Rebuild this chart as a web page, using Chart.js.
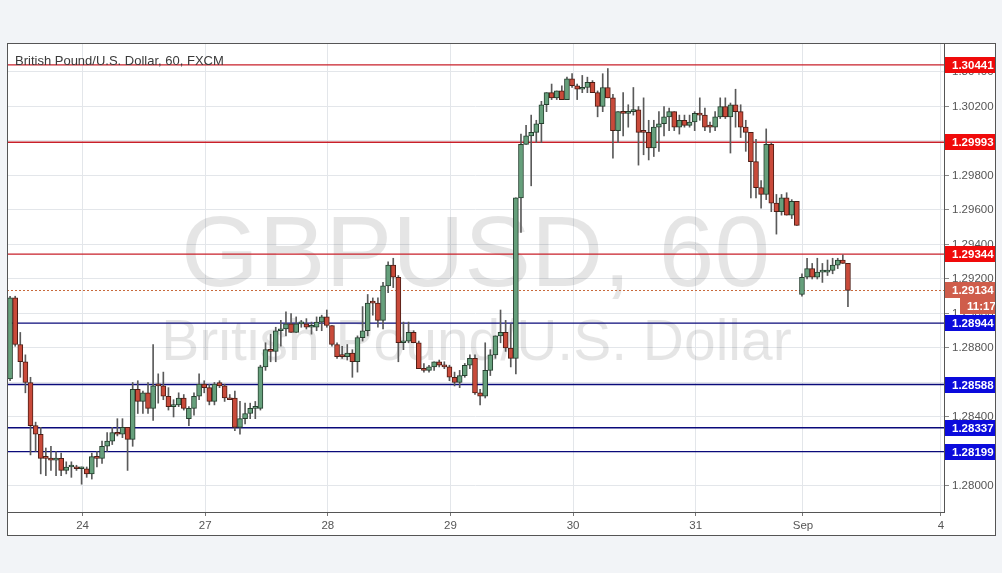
<!DOCTYPE html>
<html>
<head>
<meta charset="utf-8">
<title>GBPUSD, 60</title>
<script src="https://cdn.jsdelivr.net/npm/chart.js@4.4.0/dist/chart.umd.min.js"></script>
<style>
  html, body { margin: 0; padding: 0; background: #f2f4f7; }
  canvas { display: block; }
</style>
</head>
<body>
<canvas id="myChart" width="1002" height="573"></canvas>
<script>
const title = 'British Pound/U.S. Dollar, 60, FXCM';
const symbol = 'GBPUSD, 60';
const symbolName = 'British Pound/U.S. Dollar';

// hourly candles, [open, high, low, close]
const aug23 = [
    [1.2862, 1.2910, 1.2861, 1.2909], [1.2909, 1.2910, 1.2881, 1.2882], [1.2882, 1.2889, 1.2863, 1.2872],
    [1.2872, 1.2876, 1.2854, 1.2860], [1.2860, 1.2863, 1.2818, 1.2835], [1.2835, 1.2837, 1.2820, 1.2830],
    [1.2830, 1.2834, 1.2807, 1.2816], [1.2817, 1.2822, 1.2806, 1.2816], [1.2816, 1.2823, 1.2809, 1.2815],
    [1.2815, 1.2820, 1.2806, 1.2816], [1.2816, 1.2819, 1.2806, 1.2809], [1.2809, 1.2814, 1.2807, 1.2811],
    [1.2811, 1.2814, 1.2805, 1.2811], [1.2811, 1.2812, 1.2809, 1.2810], [1.2810, 1.2811, 1.2801, 1.2810]
];
const aug24 = [
    [1.2810, 1.2811, 1.2805, 1.2807], [1.2807, 1.2819, 1.2804, 1.2817], [1.2817, 1.2820, 1.2811, 1.2816],
    [1.2816, 1.2826, 1.2813, 1.2823], [1.2823, 1.2831, 1.2820, 1.2826], [1.2826, 1.2834, 1.2824, 1.2831],
    [1.2831, 1.2839, 1.2829, 1.2830], [1.2830, 1.2839, 1.2828, 1.2834], [1.2834, 1.2834, 1.2809, 1.2827],
    [1.2827, 1.2860, 1.2823, 1.2856], [1.2856, 1.2861, 1.2842, 1.2849], [1.2849, 1.2855, 1.2842, 1.2854],
    [1.2854, 1.2860, 1.2842, 1.2845], [1.2845, 1.2882, 1.2838, 1.2858], [1.2859, 1.2865, 1.2848, 1.2858],
    [1.2858, 1.2866, 1.2850, 1.2852], [1.2852, 1.2857, 1.2844, 1.2846], [1.2846, 1.2850, 1.2840, 1.2846],
    [1.2847, 1.2854, 1.2846, 1.2851], [1.2851, 1.2853, 1.2844, 1.2845], [1.2839, 1.2846, 1.2835, 1.2845],
    [1.2845, 1.2854, 1.2841, 1.2852], [1.2852, 1.2865, 1.2850, 1.2859], [1.2859, 1.2861, 1.2854, 1.2857]
];
const aug27 = [
    [1.2857, 1.2859, 1.2847, 1.2849], [1.2849, 1.2860, 1.2847, 1.2859], [1.2860, 1.2861, 1.2857, 1.2858],
    [1.2858, 1.2859, 1.2849, 1.2851], [1.2851, 1.2853, 1.2850, 1.2850], [1.2851, 1.2855, 1.2832, 1.2834],
    [1.2834, 1.2849, 1.2830, 1.2839], [1.2839, 1.2848, 1.2836, 1.2842], [1.2842, 1.2848, 1.2839, 1.2845],
    [1.2845, 1.2849, 1.2839, 1.2846], [1.2845, 1.2870, 1.2844, 1.2869], [1.2869, 1.2883, 1.2867, 1.2879],
    [1.2879, 1.2888, 1.2872, 1.2878], [1.2878, 1.2892, 1.2872, 1.2890], [1.2890, 1.2896, 1.2881, 1.2891],
    [1.2891, 1.2901, 1.2887, 1.2894], [1.2894, 1.2900, 1.2889, 1.2889], [1.2889, 1.2898, 1.2889, 1.2894],
    [1.2894, 1.2896, 1.2892, 1.2894], [1.2894, 1.2897, 1.2891, 1.2892], [1.2892, 1.2895, 1.2888, 1.2892],
    [1.2892, 1.2898, 1.2890, 1.2895], [1.2895, 1.2899, 1.2890, 1.2898], [1.2898, 1.2902, 1.2892, 1.2893]
];
const aug28 = [
    [1.2893, 1.2893, 1.2881, 1.2882], [1.2882, 1.2883, 1.2874, 1.2875], [1.2876, 1.2881, 1.2874, 1.2875],
    [1.2875, 1.2882, 1.2873, 1.2877], [1.2877, 1.2879, 1.2863, 1.2872], [1.2872, 1.2887, 1.2866, 1.2886],
    [1.2886, 1.2904, 1.2884, 1.2890], [1.2890, 1.2911, 1.2887, 1.2906], [1.2907, 1.2909, 1.2899, 1.2906],
    [1.2906, 1.2909, 1.2892, 1.2896], [1.2896, 1.2918, 1.2891, 1.2916], [1.2916, 1.2930, 1.2912, 1.2928],
    [1.2928, 1.2932, 1.2915, 1.2921], [1.2921, 1.2922, 1.2872, 1.2883], [1.2883, 1.2895, 1.2879, 1.2884],
    [1.2884, 1.2895, 1.2883, 1.2889], [1.2889, 1.2890, 1.2883, 1.2883], [1.2883, 1.2884, 1.2868, 1.2868],
    [1.2868, 1.2871, 1.2866, 1.2867], [1.2867, 1.2870, 1.2866, 1.2869], [1.2869, 1.2872, 1.2867, 1.2872],
    [1.2872, 1.2873, 1.2869, 1.2870], [1.2870, 1.2872, 1.2868, 1.2869], [1.2869, 1.2870, 1.2861, 1.2863]
];
const aug29 = [
    [1.2863, 1.2866, 1.2858, 1.2860], [1.2860, 1.2867, 1.2857, 1.2864], [1.2864, 1.2871, 1.2863, 1.2870],
    [1.2870, 1.2876, 1.2868, 1.2874], [1.2874, 1.2876, 1.2853, 1.2854], [1.2854, 1.2856, 1.2847, 1.2852],
    [1.2852, 1.2883, 1.2851, 1.2867], [1.2867, 1.2879, 1.2864, 1.2876], [1.2876, 1.2887, 1.2874, 1.2887],
    [1.2887, 1.2902, 1.2883, 1.2889], [1.2889, 1.2896, 1.2878, 1.2880], [1.2880, 1.2894, 1.2869, 1.2874],
    [1.2874, 1.2967, 1.2865, 1.2967], [1.2967, 1.3004, 1.2947, 1.2998], [1.2998, 1.3009, 1.2998, 1.3003],
    [1.3003, 1.3015, 1.2974, 1.3005], [1.3005, 1.3012, 1.2999, 1.3010], [1.3010, 1.3023, 1.2999, 1.3021],
    [1.3021, 1.3028, 1.3017, 1.3028], [1.3028, 1.3033, 1.3024, 1.3025], [1.3025, 1.3029, 1.3024, 1.3029],
    [1.3029, 1.3032, 1.3024, 1.3024], [1.3024, 1.3037, 1.3024, 1.3036], [1.3036, 1.3039, 1.3031, 1.3032]
];
const aug30 = [
    [1.3032, 1.3033, 1.3024, 1.3030], [1.3030, 1.3038, 1.3028, 1.3031], [1.3031, 1.3037, 1.3028, 1.3034],
    [1.3034, 1.3035, 1.3028, 1.3028], [1.3028, 1.3029, 1.3014, 1.3020], [1.3020, 1.3039, 1.3017, 1.3031],
    [1.3031, 1.3042, 1.3025, 1.3025], [1.3025, 1.3027, 1.2990, 1.3006], [1.3006, 1.3017, 1.2999, 1.3017],
    [1.3017, 1.3028, 1.3003, 1.3016], [1.3016, 1.3021, 1.3008, 1.3017], [1.3017, 1.3031, 1.3015, 1.3018],
    [1.3018, 1.3020, 1.2986, 1.3005], [1.3006, 1.3025, 1.2992, 1.3005], [1.3005, 1.3012, 1.2989, 1.2996],
    [1.2996, 1.3012, 1.2991, 1.3008], [1.3008, 1.3017, 1.2994, 1.3010], [1.3010, 1.3020, 1.3003, 1.3014],
    [1.3014, 1.3019, 1.3006, 1.3017], [1.3017, 1.3017, 1.3006, 1.3008], [1.3008, 1.3015, 1.3004, 1.3012],
    [1.3012, 1.3015, 1.3008, 1.3009], [1.3009, 1.3015, 1.3008, 1.3011], [1.3011, 1.3017, 1.3006, 1.3016]
];
const aug31 = [
    [1.3016, 1.3025, 1.3012, 1.3015], [1.3015, 1.3019, 1.3006, 1.3008], [1.3009, 1.3011, 1.3005, 1.3008],
    [1.3008, 1.3017, 1.3006, 1.3014], [1.3014, 1.3025, 1.3013, 1.3020], [1.3020, 1.3025, 1.3013, 1.3014],
    [1.3014, 1.3022, 1.2993, 1.3021], [1.3021, 1.3030, 1.3008, 1.3017], [1.3017, 1.3021, 1.3002, 1.3008],
    [1.3008, 1.3012, 1.2994, 1.3005], [1.3005, 1.3005, 1.2967, 1.2988], [1.2988, 1.3001, 1.2967, 1.2973],
    [1.2973, 1.2977, 1.2961, 1.2969], [1.2969, 1.3007, 1.2966, 1.2998], [1.2998, 1.2999, 1.2959, 1.2964],
    [1.2964, 1.2969, 1.2946, 1.2959], [1.2959, 1.2969, 1.2957, 1.2967], [1.2967, 1.2970, 1.2957, 1.2957],
    [1.2957, 1.2966, 1.2955, 1.2965], [1.2965, 1.2965, 1.2951, 1.2951]
];
const sep03 = [
    [1.2911, 1.2923, 1.2910, 1.2921], [1.2921, 1.2932, 1.2920, 1.2926], [1.2926, 1.2929, 1.2920, 1.2921],
    [1.2921, 1.2932, 1.2920, 1.2924], [1.2924, 1.2929, 1.2918, 1.2925], [1.2924, 1.2931, 1.2922, 1.2925],
    [1.2925, 1.2932, 1.2923, 1.2928], [1.2928, 1.2932, 1.2926, 1.2931], [1.2931, 1.2934, 1.2929, 1.2929],
    [1.2929, 1.2929, 1.2904, 1.29134]
];

// x axis: bar number where each day starts
const dayTicks = [14.2, 38.2, 62.2, 86.2, 110.2, 134.2, 155.2, 182.2];
const dayLabels = ['24', '27', '28', '29', '30', '31', 'Sep', '4'];

const resistance = [1.30441, 1.29993, 1.29344];
const support = [1.28944, 1.28588, 1.28337, 1.28199];
const lastPrice = 1.29134;
const countdown = '11:17';

const FONT = '"Liberation Sans", Arial, sans-serif';

const candles = [].concat(aug23, aug24, aug27, aug28, aug29, aug30, aug31, sep03);
const isUp = candles.map(c => c[3] >= c[0]);

function priceTag(ctx, y, left, right, text, color) {
    ctx.fillStyle = color;
    ctx.fillRect(left, Math.round(y) - 8, right - left, 16);
    ctx.fillStyle = '#ffffff';
    ctx.font = 'bold 11.5px ' + FONT;
    ctx.textAlign = 'left';
    ctx.textBaseline = 'middle';
    ctx.fillText(text, left + 7, Math.round(y) + 0.5);
}

const overlay = {
    id: 'overlay',
    beforeDraw(chart) {
        const ctx = chart.ctx;
        ctx.save();
        ctx.fillStyle = '#f2f4f7';
        ctx.fillRect(0, 0, chart.width, chart.height);
        ctx.fillStyle = '#ffffff';
        ctx.fillRect(7, 43, 989, 493);
        ctx.restore();
    },
    beforeDatasetsDraw(chart) {
        const ctx = chart.ctx;
        const area = chart.chartArea;
        const y = chart.scales.y;
        ctx.save();

        // watermark
        const cx = (area.left + area.right) / 2;
        ctx.fillStyle = 'rgba(0, 0, 0, 0.1)';
        ctx.textAlign = 'center';
        ctx.textBaseline = 'alphabetic';
        ctx.font = '100px ' + FONT;
        ctx.fillText(symbol, cx, 286);
        ctx.font = '57px ' + FONT;
        ctx.fillText(symbolName, cx + 1, 360);

        // levels
        ctx.lineWidth = 1.4;
        ctx.strokeStyle = '#c8202a';
        resistance.forEach(v => {
            const py = y.getPixelForValue(v);
            ctx.beginPath();
            ctx.moveTo(area.left, py);
            ctx.lineTo(area.right, py);
            ctx.stroke();
        });
        ctx.strokeStyle = '#0a0a7a';
        support.forEach(v => {
            const py = y.getPixelForValue(v);
            ctx.beginPath();
            ctx.moveTo(area.left, py);
            ctx.lineTo(area.right, py);
            ctx.stroke();
        });

        ctx.lineWidth = 1;
        ctx.strokeStyle = '#c8693c';
        ctx.setLineDash([2, 2]);
        const lp = Math.round(y.getPixelForValue(lastPrice)) + 0.5;
        ctx.beginPath();
        ctx.moveTo(area.left, lp);
        ctx.lineTo(area.right, lp);
        ctx.stroke();
        ctx.restore();
    },
    afterDraw(chart) {
        const ctx = chart.ctx;
        const y = chart.scales.y;
        const left = y.left + 1;
        const right = 995;
        ctx.save();

        resistance.forEach(v => priceTag(ctx, y.getPixelForValue(v), left, right, v.toFixed(5), '#f00a0a'));
        support.forEach(v => priceTag(ctx, y.getPixelForValue(v), left, right, v.toFixed(5), '#0b0bdc'));

        const lp = y.getPixelForValue(lastPrice);
        priceTag(ctx, lp, left, right, lastPrice.toFixed(5), '#cf5d4b');
        priceTag(ctx, lp + 16, 960, right, countdown, '#cf5d4b');

        // title
        ctx.fillStyle = '#3a3a3a';
        ctx.font = '13px ' + FONT;
        ctx.textAlign = 'left';
        ctx.textBaseline = 'alphabetic';
        ctx.fillText(title, 15, 65);

        // frame
        ctx.strokeStyle = '#555555';
        ctx.lineWidth = 1;
        ctx.strokeRect(7.5, 43.5, 988, 492);
        ctx.restore();
    }
};

const ctx = document.getElementById('myChart').getContext('2d');
const chart = new Chart(ctx, {
    type: 'bar',
    data: {
        datasets: [{
            label: 'wicks',
            data: candles.map((c, i) => ({ x: i, y: [c[2], c[1]] })),
            backgroundColor: '#5a5a5a',
            borderWidth: 0,
            barThickness: 1,
            grouped: false,
            order: 2
        }, {
            label: 'bodies',
            data: candles.map((c, i) => ({ x: i, y: [c[0], c[3]] })),
            backgroundColor: isUp.map(u => u ? '#66a07c' : '#c94a3a'),
            borderColor: isUp.map(u => u ? '#253f2e' : '#4e1d15'),
            borderWidth: 1,
            borderSkipped: false,
            barThickness: 5,
            minBarLength: 2,
            grouped: false,
            order: 1
        }]
    },
    options: {
        responsive: false,
        animation: false,
        devicePixelRatio: 1,
        events: [],
        layout: { padding: { left: 7, top: 43, right: 6, bottom: 37 } },
        plugins: {
            legend: { display: false },
            tooltip: { enabled: false }
        },
        scales: {
            x: {
                type: 'linear',
                min: -0.6,
                max: 182.8,
                offset: false,
                afterBuildTicks: scale => {
                    scale.ticks = dayTicks.map(v => ({ value: v }));
                },
                afterFit: scale => {
                    scale.height = 24;
                },
                ticks: {
                    autoSkip: false,
                    maxRotation: 0,
                    padding: 3,
                    color: '#555555',
                    font: { family: FONT, size: 11.5 },
                    callback: (value, index) => dayLabels[index]
                },
                grid: { color: '#e3e6ea', offset: false, tickLength: 4, tickColor: '#777777' },
                border: { color: '#555555' }
            },
            y: {
                position: 'right',
                min: 1.27849,
                max: 1.30568,
                beginAtZero: false,
                afterFit: scale => {
                    scale.width = 52;
                },
                ticks: {
                    stepSize: 0.002,
                    includeBounds: false,
                    padding: 3,
                    color: '#555555',
                    font: { family: FONT, size: 11.5 },
                    callback: value => value.toFixed(5)
                },
                grid: { color: '#e3e6ea', tickLength: 5, tickColor: '#888888' },
                border: { color: '#555555' }
            }
        }
    },
    plugins: [overlay]
});
</script>
</body>
</html>
